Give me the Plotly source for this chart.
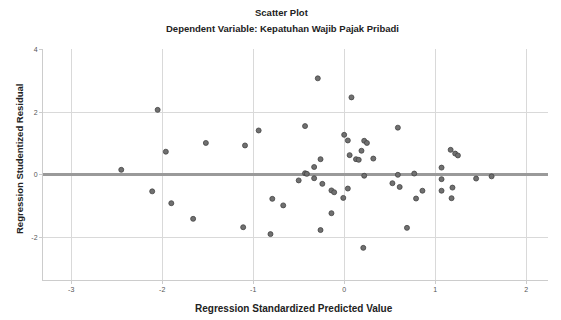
import plotly.graph_objects as go

# Regression Standardized Predicted Value (x) and Studentized Residual (y)
pred = [-2.45, -2.05, -2.11, -1.96, -1.90, -1.66, -1.52, -1.11, -1.09, -0.94,
        -0.79, -0.81, -0.67, -0.50, -0.29, -0.43, 0.08, -0.43, -0.41, -0.33,
        -0.26, -0.33, -0.24, -0.14, -0.11, -0.14, -0.26, -0.01, 0.04, 0.00,
        0.04, 0.06, 0.13, 0.16, 0.19, 0.22, 0.25, 0.32, 0.22, 0.21,
        0.59, 0.59, 0.53, 0.61, 0.77, 0.86, 0.79, 0.69, 1.07, 1.07,
        1.07, 1.17, 1.22, 1.25, 1.19, 1.18, 1.45, 1.62]
resid = [0.16, 2.08, -0.53, 0.74, -0.91, -1.41, 1.02, -1.68, 0.94, 1.42,
         -0.77, -1.90, -0.98, -0.18, 3.09, 1.56, 2.48, 0.05, 0.03, 0.25,
         0.50, -0.11, -0.29, -0.50, -0.56, -1.23, -1.77, -0.74, -0.44, 1.28,
         1.10, 0.63, 0.50, 0.48, 0.77, 1.09, 1.02, 0.52, -0.03, -2.34,
         1.51, 0.00, -0.27, -0.39, 0.04, -0.51, -0.76, -1.70, 0.23, -0.14,
         -0.51, 0.80, 0.68, 0.62, -0.41, -0.75, -0.12, -0.05]

x_ticks = [-3, -2, -1, 0, 1, 2]
y_ticks = [-2, 0, 2, 4]

title_main = "Scatter Plot"
title_sub = "Dependent Variable: Kepatuhan Wajib Pajak Pribadi"
x_title = "Regression Standardized Predicted Value"
y_title = "Regression Studentized Residual"

# page body has an 8px default margin, so the figure is sized to fit the window
W, H = 553, 312
L, R, T, B = 35, 13, 41, 40
PW, PH = W - L - R, H - T - B

fig = go.Figure()
fig.add_trace(go.Scatter(
    x=pred, y=resid, mode="markers",
    marker=dict(size=5, color="#707070", line=dict(color="#444444", width=0.8)),
    showlegend=False, hoverinfo="x+y"))

font_fam = "Liberation Sans, Arial, sans-serif"
fig.update_layout(
    width=W, height=H,
    margin=dict(l=L, r=R, t=T, b=B),
    paper_bgcolor="white", plot_bgcolor="white",
    font=dict(family=font_fam, size=8, color="#333333"),
    showlegend=False,
)
cx = (274 - L) / PW
fig.add_annotation(text="<b>" + title_main + "</b>", xref="paper", yref="paper",
                   x=cx, y=1 + (T - 5) / PH, showarrow=False,
                   font=dict(size=9.5, color="#222222"), yanchor="middle")
fig.add_annotation(text="<b>" + title_sub + "</b>", xref="paper", yref="paper",
                   x=cx, y=1 + (T - 20) / PH, showarrow=False,
                   font=dict(size=9.5, color="#222222"), yanchor="middle")
fig.add_annotation(text="<b>" + x_title + "</b>", xref="paper", yref="paper",
                   x=(286 - L) / PW, y=-(300 - (T + PH)) / PH, showarrow=False,
                   font=dict(size=10, color="#222222"), yanchor="middle")
fig.add_annotation(text="<b>" + y_title + "</b>", xref="paper", yref="paper",
                   x=(11 - L) / PW, y=(T + PH - 151) / PH, showarrow=False,
                   textangle=-90, font=dict(size=9.5, color="#222222"),
                   xanchor="center", yanchor="middle")

fig.update_xaxes(
    range=[-3.31, 2.24], tickvals=x_ticks, ticktext=[str(v) for v in x_ticks],
    showgrid=True, gridcolor="#d9d9d9", gridwidth=1, zeroline=False,
    showline=True, linecolor="#cccccc", linewidth=1,
    ticks="outside", ticklen=3, tickcolor="#cccccc",
    tickfont=dict(size=7, color="#555555"), automargin=False,
)
fig.update_yaxes(
    range=[-3.37, 4.03], tickvals=y_ticks, ticktext=[str(v) for v in y_ticks],
    showgrid=True, gridcolor="#d9d9d9", gridwidth=1,
    zeroline=True, zerolinecolor="#9a9a9a", zerolinewidth=2.5,
    showline=True, linecolor="#cccccc", linewidth=1,
    ticks="outside", ticklen=3, tickcolor="#cccccc",
    tickfont=dict(size=7, color="#555555"), automargin=False,
)

fig.write_html("out.html")
